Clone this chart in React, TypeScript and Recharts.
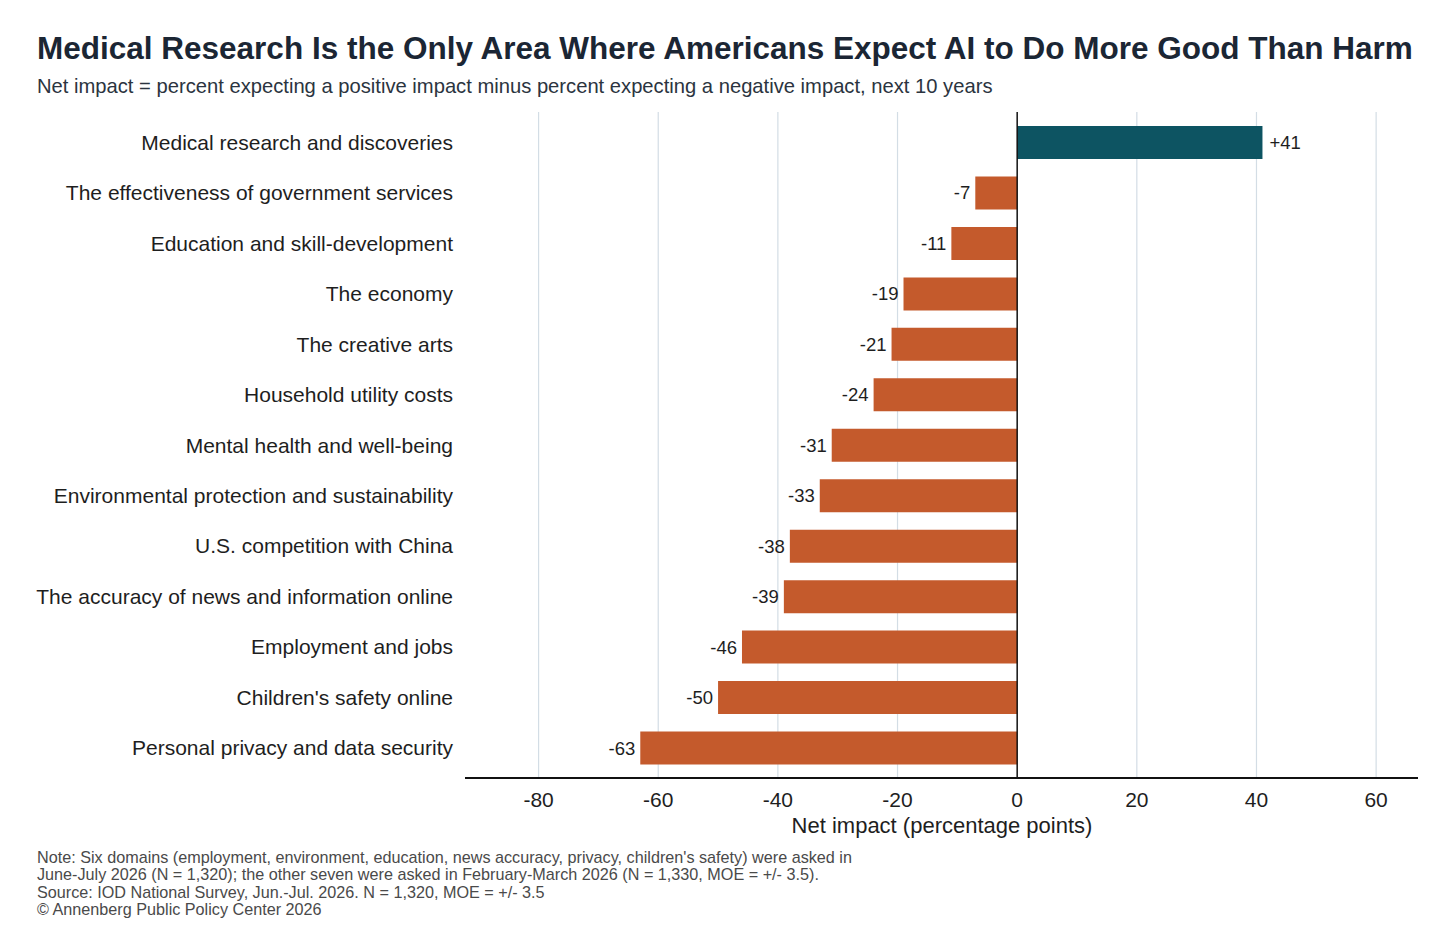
import React from "react"
import { Bar, BarChart, CartesianGrid, Cell, LabelList, ReferenceLine, XAxis, YAxis } from "recharts"

const TITLE = "Medical Research Is the Only Area Where Americans Expect AI to Do More Good Than Harm"
const SUBTITLE = "Net impact = percent expecting a positive impact minus percent expecting a negative impact, next 10 years"

const categories = [
  "Medical research and discoveries",
  "The effectiveness of government services",
  "Education and skill-development",
  "The economy",
  "The creative arts",
  "Household utility costs",
  "Mental health and well-being",
  "Environmental protection and sustainability",
  "U.S. competition with China",
  "The accuracy of news and information online",
  "Employment and jobs",
  "Children's safety online",
  "Personal privacy and data security",
]
const netImpact = [41, -7, -11, -19, -21, -24, -31, -33, -38, -39, -46, -50, -63]
const xTicks = [-80, -60, -40, -20, 0, 20, 40, 60]

const notes = [
  "Note: Six domains (employment, environment, education, news accuracy, privacy, children's safety) were asked in",
  "June-July 2026 (N = 1,320); the other seven were asked in February-March 2026 (N = 1,330, MOE = +/- 3.5).",
  "Source: IOD National Survey, Jun.-Jul. 2026. N = 1,320, MOE = +/- 3.5",
  "© Annenberg Public Policy Center 2026",
]

const POS = "#0d5462"
const NEG = "#c45a2c"
const INK = "#1e1e1e"
const FONT = "'Liberation Sans', Arial, Helvetica, sans-serif"

const data = categories.map((c, i) => ({ name: c, value: netImpact[i] }))

function CatTick({ y, payload }: any) {
  return (
    <text x={453} y={y} dy={7.5} textAnchor="end" fontSize={21} fill={INK} fontFamily={FONT}>
      {payload.value}
    </text>
  )
}

function NumTick({ x, y, payload }: any) {
  return (
    <text x={x} y={y} dy={21} textAnchor="middle" fontSize={21} fill={INK} fontFamily={FONT}>
      {payload.value}
    </text>
  )
}

function ValueLabel({ x, y, width, height, value }: any) {
  const v = Number(value)
  const end = x + width
  const pos = v >= 0
  return (
    <text
      x={pos ? end + 7 : end - 5}
      y={y + height / 2}
      dy={6.5}
      textAnchor={pos ? "start" : "end"}
      fontSize={18.5}
      fill={INK}
      fontFamily={FONT}
    >
      {pos ? `+${v}` : `${v}`}
    </text>
  )
}

export default function App() {
  return (
    <div style={{ position: "absolute", left: 0, top: 0, width: 1456, height: 946, background: "#fff", fontFamily: FONT }}>
      <div style={{ position: "absolute", left: 37, top: 30, fontSize: 31.5, fontWeight: 700, color: "#1b2634", whiteSpace: "nowrap" }}>
        {TITLE}
      </div>
      <div style={{ position: "absolute", left: 37, top: 75, fontSize: 20.2, color: "#2b3440", whiteSpace: "nowrap" }}>
        {SUBTITLE}
      </div>
      <div style={{ position: "absolute", left: 0, top: 0 }}>
        <BarChart
          width={1456}
          height={850}
          data={data}
          layout="vertical"
          margin={{ top: 112, right: 38, bottom: 12, left: 0 }}
        >
          <CartesianGrid
            horizontal={false}
            verticalValues={xTicks.filter((t) => t !== 0)}
            stroke="#d3dde5"
            strokeWidth={1.2}
          />
          <XAxis
            type="number"
            domain={[-92.3, 67]}
            ticks={xTicks}
            height={60}
            tickLine={false}
            axisLine={{ stroke: "#111", strokeWidth: 2 }}
            tick={<NumTick />}
            interval={0}
            allowDataOverflow
          />
          <YAxis
            type="category"
            dataKey="name"
            width={465}
            axisLine={false}
            tickLine={false}
            tick={<CatTick />}
            interval={0}
            padding={{ top: 5, bottom: 5 }}
          />
          <Bar dataKey="value" barSize={33} isAnimationActive={false}>
            {data.map((d, i) => (
              <Cell key={i} fill={d.value >= 0 ? POS : NEG} />
            ))}
            <LabelList dataKey="value" content={<ValueLabel />} />
          </Bar>
          <ReferenceLine x={0} stroke="#111" strokeWidth={1.5} />
        </BarChart>
      </div>
      <div style={{ position: "absolute", left: 0, width: 1884, top: 813, fontSize: 22, color: INK, textAlign: "center", whiteSpace: "nowrap" }}>
        Net impact (percentage points)
      </div>
      <div style={{ position: "absolute", left: 37, top: 849, fontSize: 16.2, lineHeight: "17.4px", color: "#4a4a4a" }}>
        {notes.map((n) => (
          <div key={n} style={{ whiteSpace: "nowrap" }}>{n}</div>
        ))}
      </div>
    </div>
  )
}
